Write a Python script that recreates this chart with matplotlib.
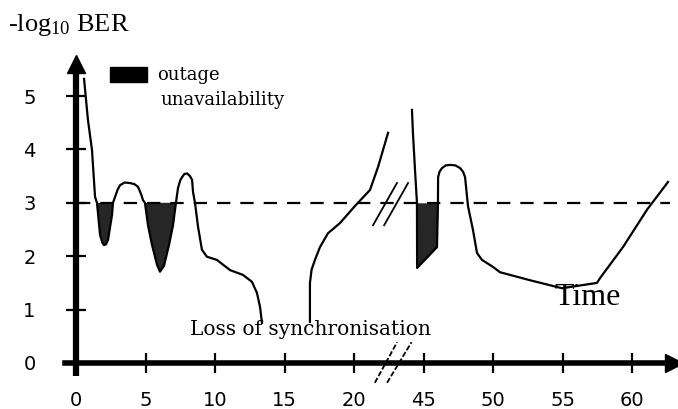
import matplotlib
matplotlib.use("Agg")
import matplotlib.pyplot as plt
import numpy as np
from matplotlib.patches import Rectangle

# ---------------- data ----------------
# segment before loss of synchronisation (time, -log10 BER)
t1 = [0.58, 0.86, 1.15, 1.37, 1.51, 1.73, 1.9, 2.01, 2.15, 2.30, 2.59, 2.66, 2.81,
      3.0, 3.17, 3.5, 3.88, 4.2, 4.46, 4.7, 4.82, 4.96, 5.18, 5.47, 5.83, 6.04,
      6.33, 6.69, 6.98, 7.19, 7.34, 7.5, 7.63, 7.8, 7.99, 8.2, 8.35, 8.42, 8.56,
      8.78, 9.06, 9.42, 10.14, 11.08, 12.01, 12.66, 13.02, 13.24, 13.38]
b1 = [5.32, 4.55, 3.99, 3.11, 3.00, 2.40, 2.25, 2.21, 2.22, 2.30, 2.77, 3.00, 3.11,
      3.25, 3.33, 3.38, 3.37, 3.35, 3.30, 3.15, 3.05, 3.00, 2.58, 2.21, 1.84, 1.71,
      1.82, 2.21, 2.58, 3.00, 3.28, 3.42, 3.48, 3.54, 3.55, 3.50, 3.43, 3.20, 3.00,
      2.55, 2.12, 1.99, 1.93, 1.74, 1.65, 1.52, 1.31, 1.05, 0.75]
# resynchronisation segment
t2 = [16.83, 16.83, 16.95, 17.19, 17.55, 18.13, 18.99, 20.07, 21.15, 21.73, 22.45]
b2 = [0.77, 1.50, 1.75, 1.93, 2.17, 2.43, 2.62, 2.94, 3.24, 3.67, 4.31]
# segment after the time break
t3 = [44.17, 44.24, 44.39, 44.53, 44.54, 45.97, 46.04, 46.05, 46.15, 46.33, 46.6,
      46.91, 47.3, 47.63, 47.85, 47.99, 48.20, 48.56, 48.85, 49.21, 50.00, 50.50,
      51.22, 52.66, 54.96, 57.48, 57.70, 59.35, 61.08, 62.59]
b3 = [4.74, 4.31, 3.61, 3.00, 1.78, 2.17, 3.00, 3.48, 3.58, 3.65, 3.70, 3.71, 3.70,
      3.65, 3.58, 3.48, 2.94, 2.49, 2.06, 1.93, 1.80, 1.70, 1.65, 1.55, 1.40, 1.50,
      1.59, 2.17, 2.87, 3.39]

threshold = 3.0
time_gap = 20          # 20 -> 45 compressed by the axis break
xtick_times = [0, 5, 10, 15, 20, 45, 50, 55, 60]
ytick_vals = [0, 1, 2, 3, 4, 5]
ytick_labels = ["0", "1", "2", "3", "4", "5"]


def to_axis(t):
    t = np.asarray(t, dtype=float)
    return np.where(t > 30, t - time_gap, t)


# ---------------- figure ----------------
fig = plt.figure(figsize=(6.78, 4.09), dpi=100)
W, H = 678, 409
px_x0, px_per_x = 76, 13.9
px_y0, px_per_y = 363, 53.4
xlim = (-1.0, 43.0)
ylim = (-0.8, 5.9)
left = (px_x0 + xlim[0] * px_per_x) / W
width = (xlim[1] - xlim[0]) * px_per_x / W
bottom = (H - (px_y0 - ylim[0] * px_per_y)) / H
height = (ylim[1] - ylim[0]) * px_per_y / H
ax = fig.add_axes([left, bottom, width, height])
ax.set_xlim(*xlim)
ax.set_ylim(*ylim)

for s in ["top", "right"]:
    ax.spines[s].set_visible(False)
ax.spines["left"].set_position(("data", 0))
ax.spines["bottom"].set_position(("data", 0))
ax.spines["left"].set_linewidth(4.5)
ax.spines["bottom"].set_linewidth(4.0)
ax.spines["left"].set_bounds(-0.25, 5.5)
ax.spines["bottom"].set_bounds(-0.8, 42.6)
ax.spines["left"].set_capstyle("butt")

ax.set_xticks(to_axis(xtick_times))
ax.set_xticklabels([str(v) for v in xtick_times])
ax.set_yticks(ytick_vals)
ax.set_yticklabels(ytick_labels)
ax.tick_params(axis="x", direction="inout", length=14, width=1.6, pad=13,
               labelsize=14)
ax.tick_params(axis="y", direction="inout", length=14, width=1.6, pad=22,
               labelsize=14)

# arrow heads
ax.plot(0, 5.6, marker="^", ms=13, color="k", clip_on=False, mec="k")
ax.plot(43.0, 0, marker=">", ms=13, color="k", clip_on=False, mec="k")

# threshold dashed line
ax.plot([0.1, 42.7], [threshold, threshold], color="k", lw=1.6,
        dashes=(6, 4.5))

fill_col = "#262626"
x1, y1 = to_axis(t1), np.array(b1)
x2, y2 = to_axis(t2), np.array(b2)
x3, y3 = to_axis(t3), np.array(b3)

ax.fill_between(x1, y1, threshold, where=(y1 <= threshold) & (x1 < 8),
                interpolate=True, color=fill_col, lw=0)
ax.fill_between(x3, y3, threshold, where=(y3 <= threshold) & (x3 < 27),
                interpolate=True, color=fill_col, lw=0)

for xx, yy in [(x1, y1), (x2, y2), (x3, y3)]:
    ax.plot(xx, yy, color="k", lw=1.6, solid_joinstyle="round")

# break marks on the curve and on the time axis
for dx in [0.0, 0.8]:
    ax.plot([21.37 + dx, 23.09 + dx], [2.58, 3.37], color="k", lw=1.3)
    ax.plot([21.5 + dx * 1.1, 23.1 + dx * 1.3], [-0.37, 0.39], color="k",
            lw=1.3, dashes=(3, 1.2), clip_on=False)

# legend
ax.add_patch(Rectangle((2.45, 5.26), 2.65, 0.28, color="k", clip_on=False))
ax.text(5.83, 5.40, "outage", family="DejaVu Serif", fontsize=13,
        va="center", ha="left")
ax.text(6.04, 4.93, "unavailability", family="DejaVu Serif", fontsize=13,
        va="center", ha="left")

ax.text(8.2, 0.62, "Loss of synchronisation", family="DejaVu Serif",
        fontsize=14.5, va="center", ha="left")
ax.text(34.4, 1.22, "Time", family="Liberation Serif", fontsize=23,
        va="center", ha="left")

plt.rcParams["mathtext.default"] = "regular"
fig.text(8 / W, 1 - 25 / H, "-log$_{10}$ BER", family="Liberation Serif",
         fontsize=19, va="center", ha="left")

fig.savefig("out.png", dpi=100)
